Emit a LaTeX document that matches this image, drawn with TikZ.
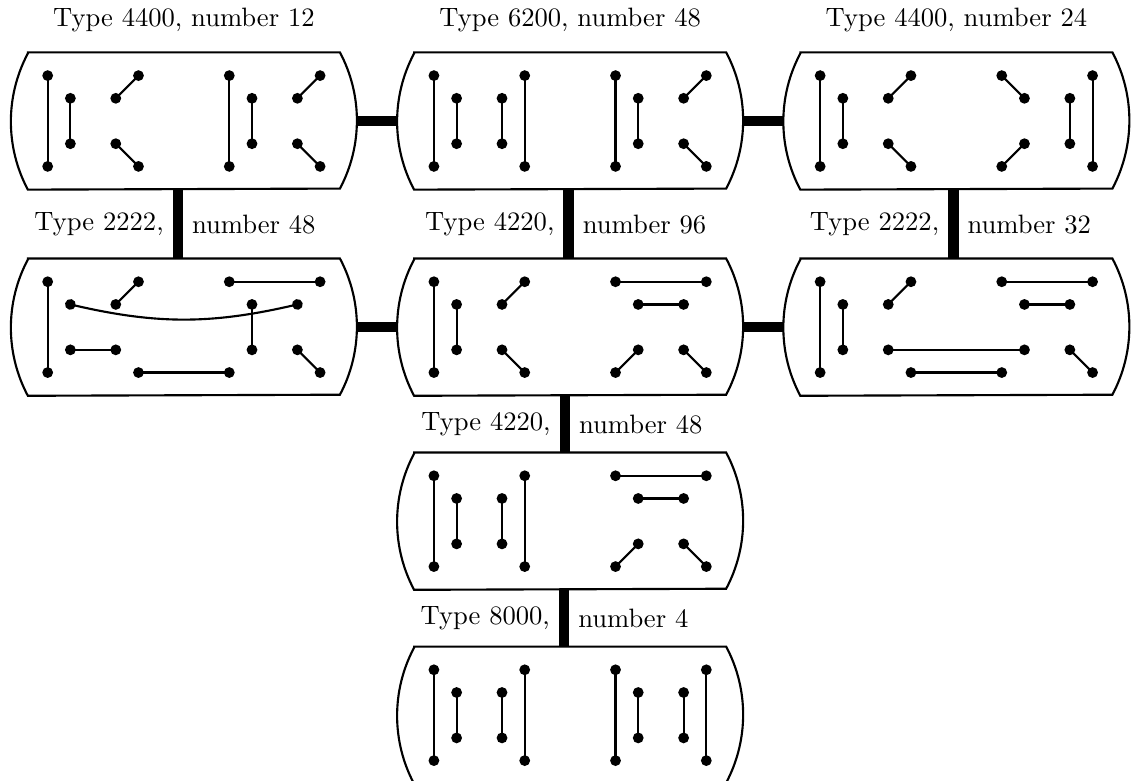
\documentclass[tikz,border=0pt]{standalone}
\usetikzlibrary{positioning,arrows.meta}
\begin{document}
\begin{tikzpicture}[
    x=0.3cm, y=0.3cm,
    box/.style = {rectangle, inner sep=0pt, minimum width=4.56cm, minimum height=1.8cm},
    shell/.style = {thick},
    chord/.style = {thick, {Circle[length=4pt]}-{Circle[length=4pt]},
                    shorten <=-2pt, shorten >=-2pt},
    link/.style = {line width=4pt}
    ]
    \useasboundingbox (0,0) rectangle (49.82,-34.36);
    % the eight classes
    \node[box, label={[label distance=4pt]above:{Type 4400, number 12}}] (b1) at (8.1,-5.33) {};
    \node[box, right=0.53cm of b1, label={[label distance=4pt]above:{Type 6200, number 48}}] (b2) {};
    \node[box, right=0.53cm of b2, label={[label distance=4pt]above:{Type 4400, number 24}}] (b3) {};
    \node[box, below=0.91cm of b1] (b4) {};
    \node[box, below=0.91cm of b2] (b5) {};
    \node[box, below=0.91cm of b3] (b6) {};
    \node[box, below=0.75cm of b5] (b7) {};
    \node[box, below=0.75cm of b7] (b8) {};

    % links between classes
    \draw[link] (b1) -- (b2);
    \draw[link] (b2) -- (b3);
    \draw[link] (b4) -- (b5);
    \draw[link] (b5) -- (b6);
    \draw[link] ([xshift=-0.8mm]b1.south) -- node[left]{Type 2222,} node[right]{number 48} ([xshift=-0.8mm]b4.north);
    \draw[link] ([xshift=-0.2mm]b2.south) -- node[left]{Type 4220,} node[right]{number 96} ([xshift=-0.2mm]b5.north);
    \draw[link] ([xshift=-0.4mm]b3.south) -- node[left]{Type 2222,} node[right]{number 32} ([xshift=-0.4mm]b6.north);
    \draw[link] ([xshift=-0.7mm]b5.south) -- node[left]{Type 4220,} node[right]{number 48} ([xshift=-0.7mm]b7.north);
    \draw[link] ([xshift=-0.8mm]b7.south) -- node[left]{Type 8000,} node[right]{number 4} ([xshift=-0.8mm]b8.north);

    % outlines
    \foreach \bx in {b1,b2,b3,b4,b5,b6,b7,b8}
        \draw[shell, fill=white] ([xshift=2.25mm]\bx.north west) -- ([xshift=-2.25mm]\bx.north east)
            arc[start angle=28, end angle=-28, radius=19.17mm]
            -- ([xshift=2.25mm]\bx.south west)
            arc[start angle=208, end angle=152, radius=19.17mm] -- cycle;

    % chords
    \begin{scope}[shift={(b1)}]
        \foreach \xa/\ya/\xb/\yb in {-6/2/-6/-2, -5/1/-5/-1, -3/1/-2/2, -3/-1/-2/-2,
                                     2/2/2/-2, 3/1/3/-1, 5/1/6/2, 5/-1/6/-2}
            \draw[chord] (\xa,\ya) -- (\xb,\yb);
    \end{scope}
    \begin{scope}[shift={(b2)}]
        \foreach \xa/\ya/\xb/\yb in {-6/2/-6/-2, -5/1/-5/-1, -3/1/-3/-1, -2/2/-2/-2,
                                     2/2/2/-2, 3/1/3/-1, 5/1/6/2, 5/-1/6/-2}
            \draw[chord] (\xa,\ya) -- (\xb,\yb);
    \end{scope}
    \begin{scope}[shift={(b3)}]
        \foreach \xa/\ya/\xb/\yb in {-6/2/-6/-2, -5/1/-5/-1, -3/1/-2/2, -3/-1/-2/-2,
                                     2/2/3/1, 2/-2/3/-1, 5/1/5/-1, 6/2/6/-2}
            \draw[chord] (\xa,\ya) -- (\xb,\yb);
    \end{scope}
    \begin{scope}[shift={(b4)}]
        \foreach \xa/\ya/\xb/\yb in {-6/2/-6/-2, -3/1/-2/2, -5/-1/-3/-1, -2/-2/2/-2,
                                     2/2/6/2, 3/1/3/-1, 5/-1/6/-2}
            \draw[chord] (\xa,\ya) -- (\xb,\yb);
        \draw[chord] (-5,1) to[bend right=13] (5,1);
    \end{scope}
    \begin{scope}[shift={(b5)}]
        \foreach \xa/\ya/\xb/\yb in {-6/2/-6/-2, -5/1/-5/-1, -3/1/-2/2, -3/-1/-2/-2,
                                     2/2/6/2, 3/1/5/1, 2/-2/3/-1, 5/-1/6/-2}
            \draw[chord] (\xa,\ya) -- (\xb,\yb);
    \end{scope}
    \begin{scope}[shift={(b6)}]
        \foreach \xa/\ya/\xb/\yb in {-6/2/-6/-2, -5/1/-5/-1, -3/1/-2/2, -3/-1/3/-1,
                                     -2/-2/2/-2, 2/2/6/2, 3/1/5/1, 5/-1/6/-2}
            \draw[chord] (\xa,\ya) -- (\xb,\yb);
    \end{scope}
    \begin{scope}[shift={(b7)}]
        \foreach \xa/\ya/\xb/\yb in {-6/2/-6/-2, -5/1/-5/-1, -3/1/-3/-1, -2/2/-2/-2,
                                     2/2/6/2, 3/1/5/1, 2/-2/3/-1, 5/-1/6/-2}
            \draw[chord] (\xa,\ya) -- (\xb,\yb);
    \end{scope}
    \begin{scope}[shift={(b8)}]
        \foreach \xa/\ya/\xb/\yb in {-6/2/-6/-2, -5/1/-5/-1, -3/1/-3/-1, -2/2/-2/-2,
                                     2/2/2/-2, 3/1/3/-1, 5/1/5/-1, 6/2/6/-2}
            \draw[chord] (\xa,\ya) -- (\xb,\yb);
    \end{scope}
\end{tikzpicture}
\end{document}
